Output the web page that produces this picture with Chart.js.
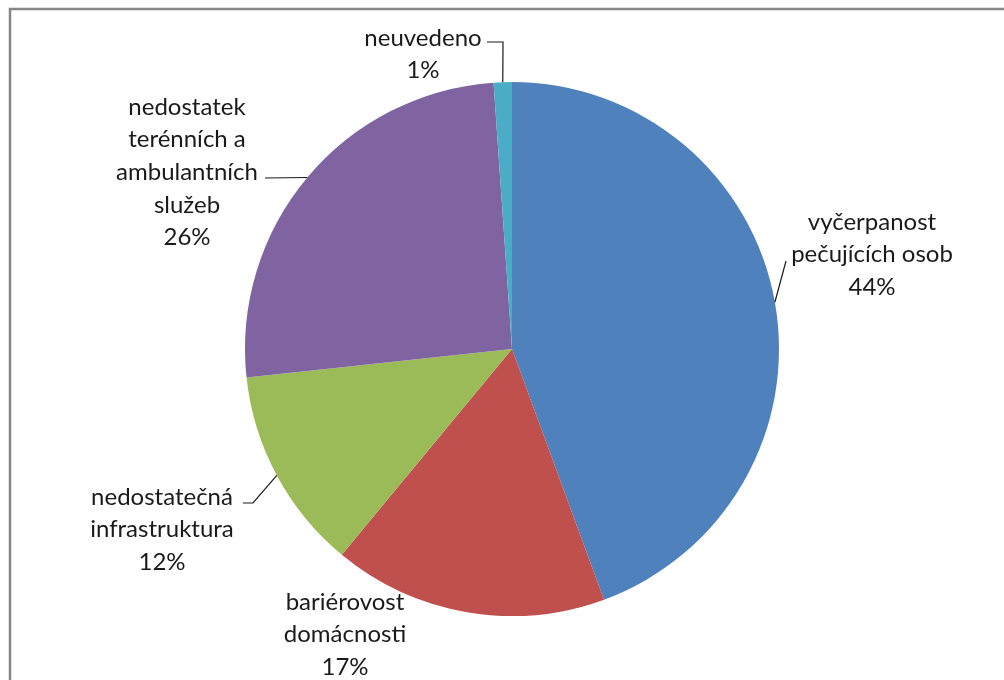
<!DOCTYPE html>
<html>
<head>
<meta charset="utf-8">
<script src="https://cdn.jsdelivr.net/npm/chart.js@4"></script>
<style>
  html, body { margin: 0; padding: 0; background: #fff; }
  #wrap { position: relative; width: 1004px; height: 680px; overflow: hidden; }
</style>
</head>
<body>
<div id="wrap"><canvas id="chart" width="1004" height="680"></canvas></div>
<script>
(() => {
  // slice names, split the way the picture wraps them
  const categoryLines = [
    ['vyčerpanost', 'pečujících osob'],
    ['bariérovost', 'domácnosti'],
    ['nedostatečná', 'infrastruktura'],
    ['nedostatek', 'terénních a', 'ambulantních', 'služeb'],
    ['neuvedeno']
  ];
  const categories = categoryLines.map(l => l.join(' '));
  const shares = [44.4, 16.6, 12.3, 25.6, 1.1];
  const colors = ['#4F81BD', '#C0504D', '#9BBB59', '#8064A2', '#4BACC6'];

  // where each label block sits (centre x, first line y) and the elbow of its leader line
  const labelLayout = [
    { x: 872, y: 222, elbow: [[786, 261]] },
    { x: 345, y: 602, elbow: null },
    { x: 162, y: 497, elbow: [[253, 503], [243, 503]] },
    { x: 187, y: 107, elbow: [[265, 178]] },
    { x: 423, y: 38, elbow: [[503, 42], [487, 42]] }
  ];
  const LINE_H = 32.6;
  const FONT = '24px Lato, "Open Sans", sans-serif';

  const total = shares.reduce((a, b) => a + b, 0);
  const pct = v => Math.round(v / total * 100) + '%';

  const frame = {
    id: 'frame',
    beforeDraw(c) {
      const ctx = c.ctx;
      ctx.save();
      ctx.strokeStyle = '#868686';
      ctx.lineWidth = 2.5;
      ctx.strokeRect(10, 9, 1100, 800);
      ctx.restore();
    }
  };

  const labels = {
    id: 'pieLabels',
    afterDraw(c) {
      const ctx = c.ctx;
      const arcs = c.getDatasetMeta(0).data;
      ctx.save();
      ctx.font = FONT;
      ctx.fillStyle = '#1a1a1a';
      ctx.textAlign = 'center';
      ctx.textBaseline = 'middle';
      arcs.forEach((arc, i) => {
        const L = labelLayout[i];
        const lines = categoryLines[i].concat(pct(shares[i]));
        lines.forEach((t, k) => ctx.fillText(t, L.x, L.y + k * LINE_H));
        if (L.elbow) {
          const mid = (arc.startAngle + arc.endAngle) / 2;
          const px = arc.x + Math.cos(mid) * arc.outerRadius;
          const py = arc.y + Math.sin(mid) * arc.outerRadius;
          ctx.beginPath();
          ctx.strokeStyle = '#1a1a1a';
          ctx.lineWidth = 1.2;
          ctx.moveTo(px, py);
          L.elbow.forEach(p => ctx.lineTo(p[0], p[1]));
          ctx.stroke();
        }
      });
      ctx.restore();
    }
  };

  new Chart(document.getElementById('chart').getContext('2d'), {
    type: 'pie',
    data: {
      labels: categories,
      datasets: [{
        data: shares,
        backgroundColor: colors,
        borderWidth: 0
      }]
    },
    options: {
      responsive: false,
      animation: false,
      devicePixelRatio: 1,
      layout: { padding: { left: 20, right: 0, top: 82, bottom: 64 } },
      plugins: { legend: { display: false }, tooltip: { enabled: false } }
    },
    plugins: [frame, labels]
  });
})();
</script>
</body>
</html>
